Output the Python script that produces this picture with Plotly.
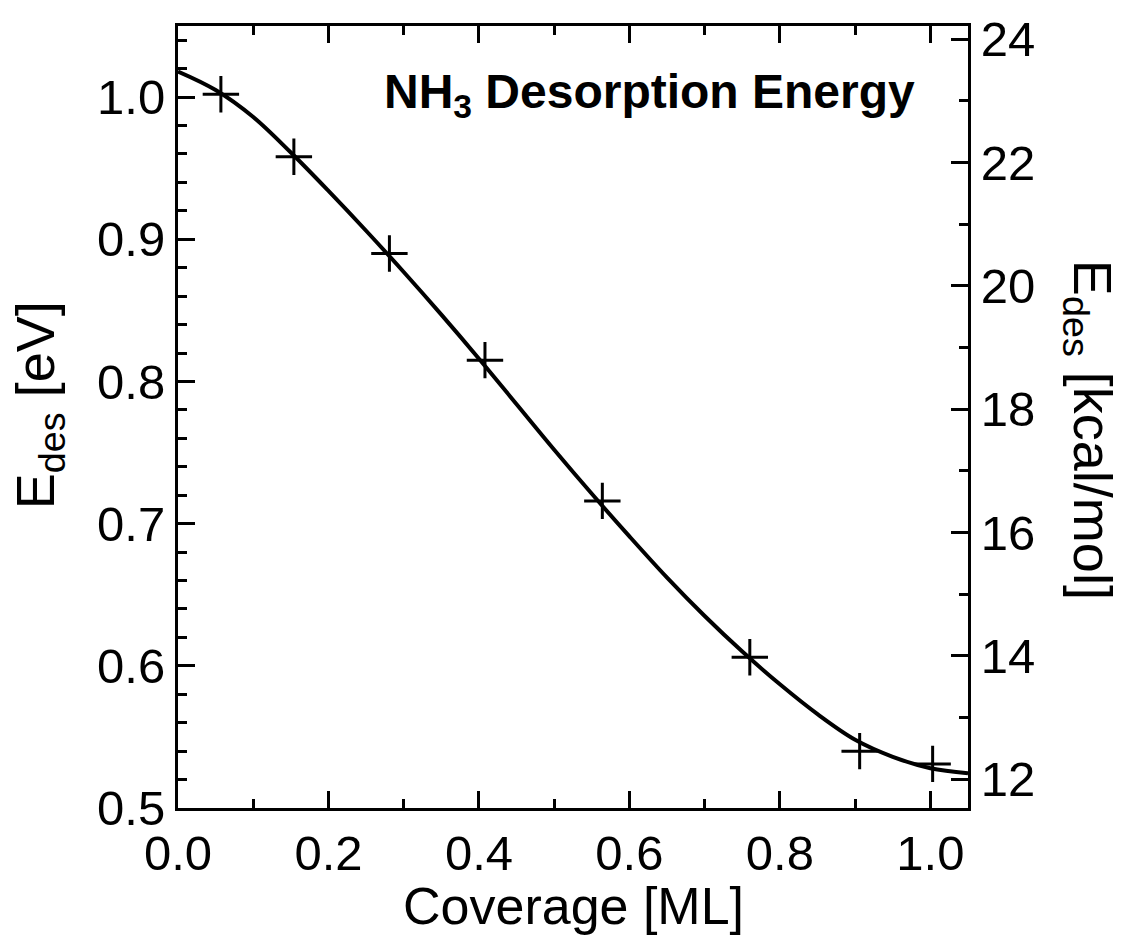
import plotly.graph_objects as go

# Measured data points (Coverage [ML], E_des [eV])
coverage_pts = [0.057, 0.154, 0.281, 0.408, 0.564, 0.760, 0.906, 1.003]
energy_pts = [1.002, 0.958, 0.890, 0.815, 0.716, 0.606, 0.540, 0.531]

# Fitted curve
curve_x = [0.0, 0.05, 0.10, 0.15, 0.20, 0.25, 0.30, 0.35, 0.40, 0.45, 0.50,
           0.55, 0.60, 0.65, 0.70, 0.75, 0.80, 0.85, 0.90, 0.95, 1.00, 1.05]
curve_y = [1.018, 1.005, 0.986, 0.961, 0.934, 0.906, 0.877, 0.847, 0.816, 0.784, 0.752,
           0.721, 0.691, 0.662, 0.635, 0.610, 0.587, 0.566, 0.548, 0.536, 0.528, 0.5245]

x_ticks = [0.0, 0.2, 0.4, 0.6, 0.8, 1.0]
y_ticks = [0.5, 0.6, 0.7, 0.8, 0.9, 1.0]
y2_ticks = [12, 14, 16, 18, 20, 22, 24]

EV_TO_KCAL = 23.0605
x_range = [0.0, 1.05]
y_range = [0.5, 1.05]

FONT = "Liberation Sans, Arial, sans-serif"
TICKFONT = dict(family=FONT, size=49, color="black")

fig = go.Figure()
fig.add_trace(go.Scatter(x=curve_x, y=curve_y, mode="lines",
                         line=dict(color="black", width=4, shape="spline", smoothing=1.0),
                         showlegend=False, hoverinfo="skip"))
fig.add_trace(go.Scatter(x=coverage_pts, y=energy_pts, mode="markers",
                         marker=dict(symbol="cross-thin", size=26, line=dict(color="black", width=3)),
                         showlegend=False))
# invisible trace to activate the secondary axis
fig.add_trace(go.Scatter(x=[0.5], y=[18], yaxis="y2", mode="markers", marker=dict(opacity=0),
                         showlegend=False, hoverinfo="skip"))

axis_common = dict(showline=True, linecolor="black", linewidth=3, ticks="inside", tickcolor="black",
                   tickwidth=3, showgrid=False, zeroline=False, tickfont=TICKFONT)

fig.update_layout(
    width=1123, height=938,
    margin=dict(l=178, r=155, t=17, b=130),
    paper_bgcolor="white", plot_bgcolor="white",
    xaxis=dict(range=x_range, tickvals=x_ticks, ticktext=[f"{v:.1f}" for v in x_ticks], ticklen=17,
               mirror="ticks", minor=dict(dtick=0.1, tick0=0, ticklen=9, ticks="inside", tickwidth=3, tickcolor="black"),
               **axis_common),
    yaxis=dict(range=y_range, tickvals=y_ticks, ticktext=[f"{v:.1f}" for v in y_ticks], ticklen=17,
               minor=dict(dtick=0.02, tick0=0.5, ticklen=9, ticks="inside", tickwidth=3, tickcolor="black"),
               **axis_common),
    yaxis2=dict(range=[y_range[0] * EV_TO_KCAL, y_range[1] * EV_TO_KCAL], overlaying="y", side="right",
                tickvals=y2_ticks, ticktext=[str(v) for v in y2_ticks], ticklen=17,
                minor=dict(dtick=1, tick0=12, ticklen=9, ticks="inside", tickwidth=3, tickcolor="black"),
                **axis_common),
    annotations=[
        dict(text="Coverage [ML]", xref="paper", yref="paper", x=0.5, y=-0.125, xanchor="center", yanchor="middle",
             showarrow=False, font=dict(family=FONT, size=52, color="black")),
        dict(text="E<sub>des</sub> [eV]", xref="paper", yref="paper", x=-0.176, y=0.515, xanchor="center", yanchor="middle",
             textangle=-90, showarrow=False, font=dict(family=FONT, size=54, color="black")),
        dict(text="E<sub>des</sub> [kcal/mol]", xref="paper", yref="paper", x=1.154, y=0.484, xanchor="center", yanchor="middle",
             textangle=90, showarrow=False, font=dict(family=FONT, size=54, color="black")),
        dict(text="<b>NH<sub>3</sub> Desorption Energy</b>", xref="paper", yref="paper", x=0.935, y=0.953,
             xanchor="right", yanchor="top", showarrow=False, font=dict(family=FONT, size=48, color="black")),
    ],
)

fig.write_html("out.html")
